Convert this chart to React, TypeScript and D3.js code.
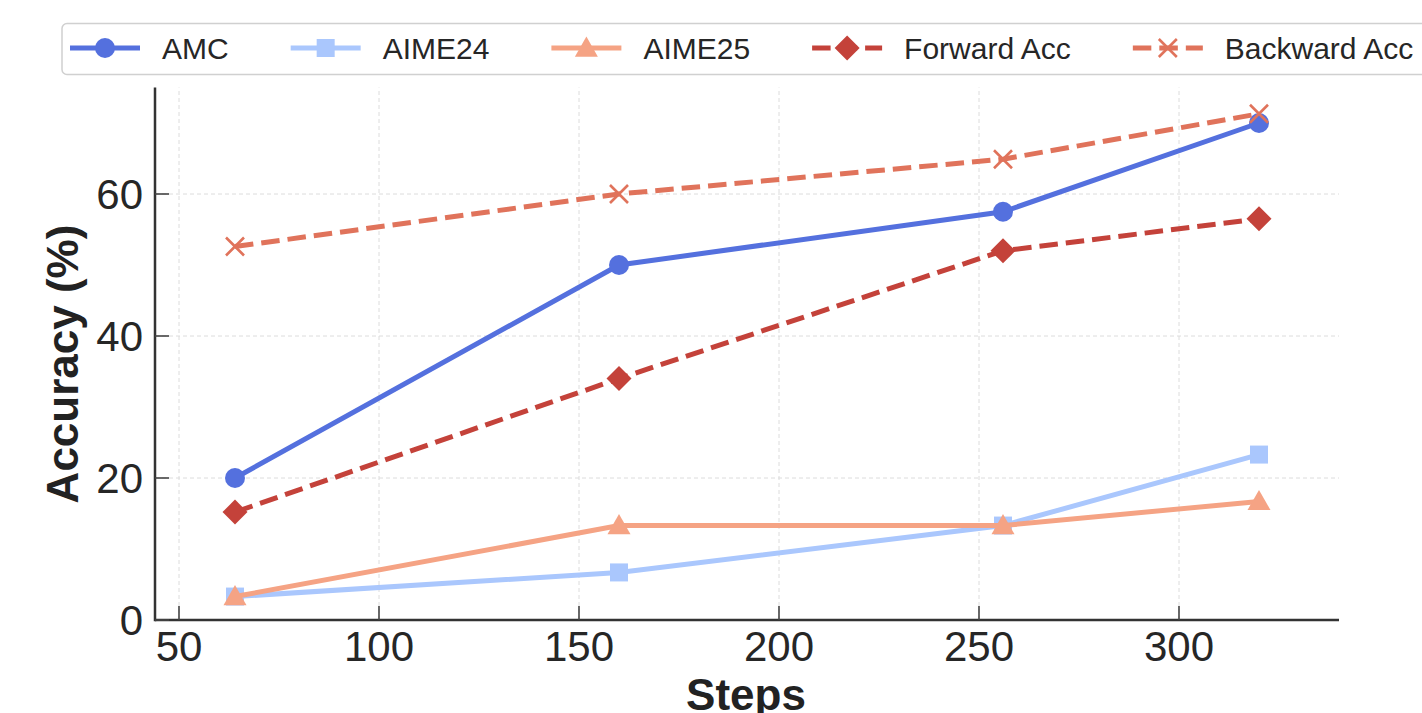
import React, { useEffect, useRef } from "react";
import * as d3 from "d3";

const steps = [64, 160, 256, 320];
const amc = [20, 50, 57.5, 70];
const aime24 = [3.3, 6.7, 13.3, 23.3];
const aime25 = [3.3, 13.3, 13.3, 16.7];
const forwardAcc = [15.2, 34, 52, 56.5];
const backwardAcc = [52.6, 60, 64.9, 71.3];

const seriesNames = ["AMC", "AIME24", "AIME25", "Forward Acc", "Backward Acc"];
const seriesColors = ["#5470de", "#aac7fd", "#f5a384", "#c4423a", "#e0735b"];
const seriesMarkers = ["circle", "square", "triangle", "diamond", "x"];
const seriesDashed = [false, false, false, true, true];

const xTicks = [50, 100, 150, 200, 250, 300];
const yTicks = [0, 20, 40, 60];

const W = 1422;
const H = 713;
const FONT = "'Liberation Sans', Arial, Helvetica, sans-serif";

function drawMarker(g: any, kind: string, cx: number, cy: number, color: string) {
  if (kind === "circle") {
    g.append("circle").attr("cx", cx).attr("cy", cy).attr("r", 10).attr("fill", color);
  } else if (kind === "square") {
    const s = 18;
    g.append("rect").attr("x", cx - s / 2).attr("y", cy - s / 2).attr("width", s).attr("height", s).attr("fill", color);
  } else if (kind === "triangle") {
    const r = 11.5;
    g.append("path")
      .attr("d", `M${cx},${cy - r} L${cx + r},${cy + r * 0.75} L${cx - r},${cy + r * 0.75} Z`)
      .attr("fill", color);
  } else if (kind === "diamond") {
    const r = 12.5;
    g.append("path")
      .attr("d", `M${cx},${cy - r} L${cx + r},${cy} L${cx},${cy + r} L${cx - r},${cy} Z`)
      .attr("fill", color);
  } else if (kind === "x") {
    const r = 9;
    g.append("path")
      .attr("d", `M${cx - r},${cy - r} L${cx + r},${cy + r} M${cx - r},${cy + r} L${cx + r},${cy - r}`)
      .attr("stroke", color)
      .attr("stroke-width", 2.6)
      .attr("fill", "none");
  }
}

export default function App() {
  const ref = useRef<SVGSVGElement | null>(null);

  useEffect(() => {
    const svg = d3.select(ref.current);
    svg.selectAll("*").remove();

    const x = d3.scaleLinear().domain([44, 340]).range([155, 1339]);
    const y = d3.scaleLinear().domain([0, 75]).range([620, 87.5]);
    const [x0, x1] = x.range();
    const [y0, y1] = y.range();

    // grid
    const grid = svg.append("g");
    xTicks.forEach((t) => {
      grid.append("line").attr("x1", x(t)).attr("x2", x(t)).attr("y1", y0).attr("y2", y1)
        .attr("stroke", "#dcdcdc").attr("stroke-width", 1).attr("stroke-dasharray", "4,3");
    });
    yTicks.forEach((t) => {
      grid.append("line").attr("x1", x0).attr("x2", x1).attr("y1", y(t)).attr("y2", y(t))
        .attr("stroke", "#dcdcdc").attr("stroke-width", 1).attr("stroke-dasharray", "4,3");
    });

    // series
    const all = [amc, aime24, aime25, forwardAcc, backwardAcc];
    const line = d3.line<number>().x((_, i) => x(steps[i])).y((d) => y(d));
    all.forEach((vals, si) => {
      const g = svg.append("g");
      g.append("path")
        .attr("d", line(vals))
        .attr("fill", "none")
        .attr("stroke", seriesColors[si])
        .attr("stroke-width", 5)
        .attr("stroke-dasharray", seriesDashed[si] ? "18.5,8" : null);
      vals.forEach((v, i) => drawMarker(g, seriesMarkers[si], x(steps[i]), y(v), seriesColors[si]));
    });

    // axes
    const ax = svg.append("g");
    ax.append("line").attr("x1", x0).attr("x2", x1).attr("y1", y0).attr("y2", y0)
      .attr("stroke", "#333").attr("stroke-width", 2.5);
    ax.append("line").attr("x1", x0).attr("x2", x0).attr("y1", y0 + 1.25).attr("y2", y1)
      .attr("stroke", "#333").attr("stroke-width", 2.5);
    xTicks.forEach((t) => {
      ax.append("line").attr("x1", x(t)).attr("x2", x(t)).attr("y1", y0).attr("y2", y0 - 14)
        .attr("stroke", "#444").attr("stroke-width", 1.6);
      ax.append("text").attr("x", x(t)).attr("y", 661).attr("text-anchor", "middle")
        .attr("font-family", FONT).attr("font-size", 42).attr("fill", "#262626").text(String(t));
    });
    yTicks.forEach((t) => {
      ax.append("line").attr("x1", x0).attr("x2", x0 + 14).attr("y1", y(t)).attr("y2", y(t))
        .attr("stroke", "#444").attr("stroke-width", 1.6);
      ax.append("text").attr("x", 143).attr("y", y(t)).attr("dy", "0.35em").attr("text-anchor", "end")
        .attr("font-family", FONT).attr("font-size", 42).attr("fill", "#262626").text(String(t));
    });

    // axis labels
    svg.append("text").attr("x", 746).attr("y", 710).attr("text-anchor", "middle")
      .attr("font-family", FONT).attr("font-weight", "bold").attr("font-size", 44).attr("fill", "#222")
      .text("Steps");
    svg.append("text").attr("transform", "translate(78,364) rotate(-90)").attr("text-anchor", "middle")
      .attr("font-family", FONT).attr("font-weight", "bold").attr("font-size", 44).attr("fill", "#222")
      .text("Accuracy (%)");

    // legend
    const lg = svg.append("g");
    lg.append("rect").attr("x", 62).attr("y", 23.5).attr("width", 1400).attr("height", 51).attr("rx", 5)
      .attr("fill", "white").attr("fill-opacity", 0.9).attr("stroke", "#d0d0d0").attr("stroke-width", 1.5);
    let cx = 70;
    const ly = 48;
    seriesNames.forEach((name, si) => {
      const hw = 70;
      lg.append("line").attr("x1", cx).attr("x2", cx + hw).attr("y1", ly).attr("y2", ly)
        .attr("stroke", seriesColors[si]).attr("stroke-width", 5)
        .attr("stroke-dasharray", seriesDashed[si] ? "18.5,8" : null);
      drawMarker(lg, seriesMarkers[si], cx + hw / 2, ly, seriesColors[si]);
      const tx = cx + hw + 22;
      const t = lg.append("text").attr("x", tx).attr("y", ly).attr("dy", "0.36em")
        .attr("font-family", FONT).attr("font-size", 30).attr("fill", "#262626").text(name);
      const tw = (t.node() as SVGTextElement).getComputedTextLength();
      cx = tx + tw + 62;
    });
  }, []);

  return (
    <svg
      ref={ref}
      width={W}
      height={H}
      style={{ position: "absolute", left: 0, top: 0, background: "white" }}
    />
  );
}
